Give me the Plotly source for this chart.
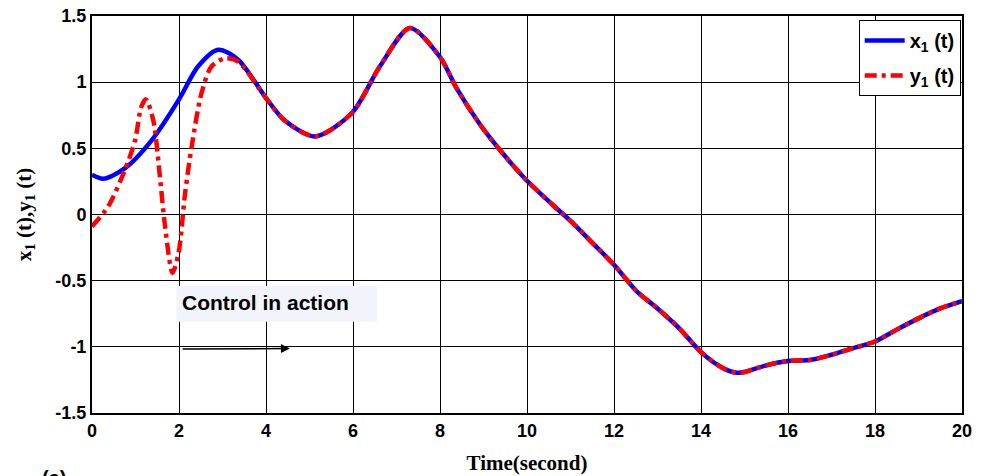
import plotly.graph_objects as go

# x1(t) samples
t_x = [0, 0.26, 0.76, 1.37, 2.0, 2.44, 2.9, 3.36, 4.0, 4.43, 5.13, 5.97, 6.62, 7.31,
       8.0, 8.38, 8.92, 9.46, 10.0, 10.6, 11.07, 11.52, 12.0, 12.52, 13.0, 13.5,
       14.0, 14.5, 14.82, 15.0, 15.5, 16.0, 16.5, 17.0, 17.5, 18.0, 18.5, 19.0, 19.5, 20.0]
x1 = [0.30, 0.27, 0.35, 0.56, 0.87, 1.12, 1.245, 1.17, 0.88, 0.71, 0.59, 0.765, 1.12, 1.41,
      1.19, 0.955, 0.68, 0.455, 0.255, 0.07, -0.07, -0.22, -0.38, -0.58, -0.71, -0.86,
      -1.04, -1.16, -1.196, -1.19, -1.14, -1.107, -1.10, -1.06, -1.01, -0.96, -0.87, -0.785, -0.71, -0.654]

# y1(t) samples
t_y = [0, 0.37, 0.76, 0.99, 1.13, 1.24, 1.41, 1.56, 1.68, 1.85, 1.99, 2.14, 2.29, 2.52,
       2.75, 3.06, 3.36, 4.0, 4.43, 5.13, 5.97, 6.62, 7.31,
       8.0, 8.38, 8.92, 9.46, 10.0, 10.6, 11.07, 11.52, 12.0, 12.52, 13.0, 13.5,
       14.0, 14.5, 14.82, 15.0, 15.5, 16.0, 16.5, 17.0, 17.5, 18.0, 18.5, 19.0, 19.5, 20.0]
y1 = [-0.09, 0.06, 0.34, 0.56, 0.81, 0.87, 0.71, 0.29, -0.09, -0.44, -0.29, 0.16, 0.51, 0.92,
      1.12, 1.18, 1.155, 0.88, 0.71, 0.59, 0.765, 1.12, 1.41,
      1.19, 0.955, 0.68, 0.455, 0.255, 0.07, -0.07, -0.22, -0.38, -0.58, -0.71, -0.86,
      -1.04, -1.16, -1.196, -1.19, -1.14, -1.107, -1.10, -1.06, -1.01, -0.96, -0.87, -0.785, -0.71, -0.654]

x_ticks = [0, 2, 4, 6, 8, 10, 12, 14, 16, 18, 20]
y_ticks = [-1.5, -1, -0.5, 0, 0.5, 1, 1.5]
y_tick_text = ["-1.5", "-1", "-0.5", "0", "0.5", "1", "1.5"]

fig = go.Figure()
fig.add_trace(go.Scatter(x=t_x, y=x1, mode="lines", name="x<sub>1</sub> (t)", legendgroup="a",
                         line=dict(color="#0000ff", width=4.5, shape="spline", smoothing=0.8)))
fig.add_trace(go.Scatter(x=t_y, y=y1, mode="lines", name="y<sub>1</sub> (t)", legendgroup="b",
                         line=dict(color="#ff0000", width=4.5, shape="spline", smoothing=0.8,
                                   dash="12px,5px,4px,5px")))

axis_common = dict(showline=True, linecolor="black", linewidth=2, mirror="ticks",
                   showgrid=True, gridcolor="black", gridwidth=1, zeroline=False,
                   ticks="inside", ticklen=5, tickcolor="black", automargin=False,
                   ticklabeloverflow="allow",
                   tickfont=dict(family="Liberation Sans", size=18, color="black", weight="bold"))

fig.update_xaxes(range=[0, 20], tickvals=x_ticks,
                 title=dict(text="<b>Time(second)</b>", standoff=16,
                            font=dict(family="Liberation Serif", size=21, color="black")),
                 **axis_common)
fig.update_yaxes(range=[-1.5, 1.5], tickvals=y_ticks, ticktext=y_tick_text,
                 title=dict(text="<b>x<sub>1</sub> (t),y<sub>1</sub> (t)</b>", standoff=18,
                            font=dict(family="Liberation Serif", size=21, color="black")),
                 **axis_common)

# annotation background and text
fig.add_shape(type="rect", xref="x", yref="y", x0=1.94, x1=6.56, y0=-0.81, y1=-0.54,
              fillcolor="#f1f4fa", line=dict(width=0), layer="above")
fig.add_annotation(x=2.02, y=-0.665, xref="x", yref="y", text="<b>Control in action</b>",
                   showarrow=False, xanchor="left", yanchor="middle",
                   font=dict(family="Liberation Sans", size=21, color="black"))
fig.add_annotation(x=4.55, y=-1.012, ax=2.05, ay=-1.017, xref="x", yref="y", axref="x", ayref="y",
                   text="", showarrow=True, arrowhead=2, arrowsize=1.2, arrowwidth=1.5,
                   arrowcolor="black")
fig.add_annotation(x=-0.06, y=0, xref="paper", yref="paper", yshift=-52, text="<b>(a)</b>",
                   showarrow=False, xanchor="left", yanchor="top",
                   font=dict(family="Liberation Sans", size=20, color="black"))

fig.update_layout(
    width=978, height=468,
    margin=dict(l=84, r=24, t=8, b=63, autoexpand=False),
    paper_bgcolor="white", plot_bgcolor="white",
    showlegend=True,
    legend=dict(x=0.9985, y=0.99, xanchor="right", yanchor="top",
                bordercolor="black", borderwidth=1, bgcolor="white",
                font=dict(family="Liberation Sans", size=20, color="black", weight="bold"),
                itemwidth=40, tracegroupgap=6),
)

fig.write_html("out.html")
